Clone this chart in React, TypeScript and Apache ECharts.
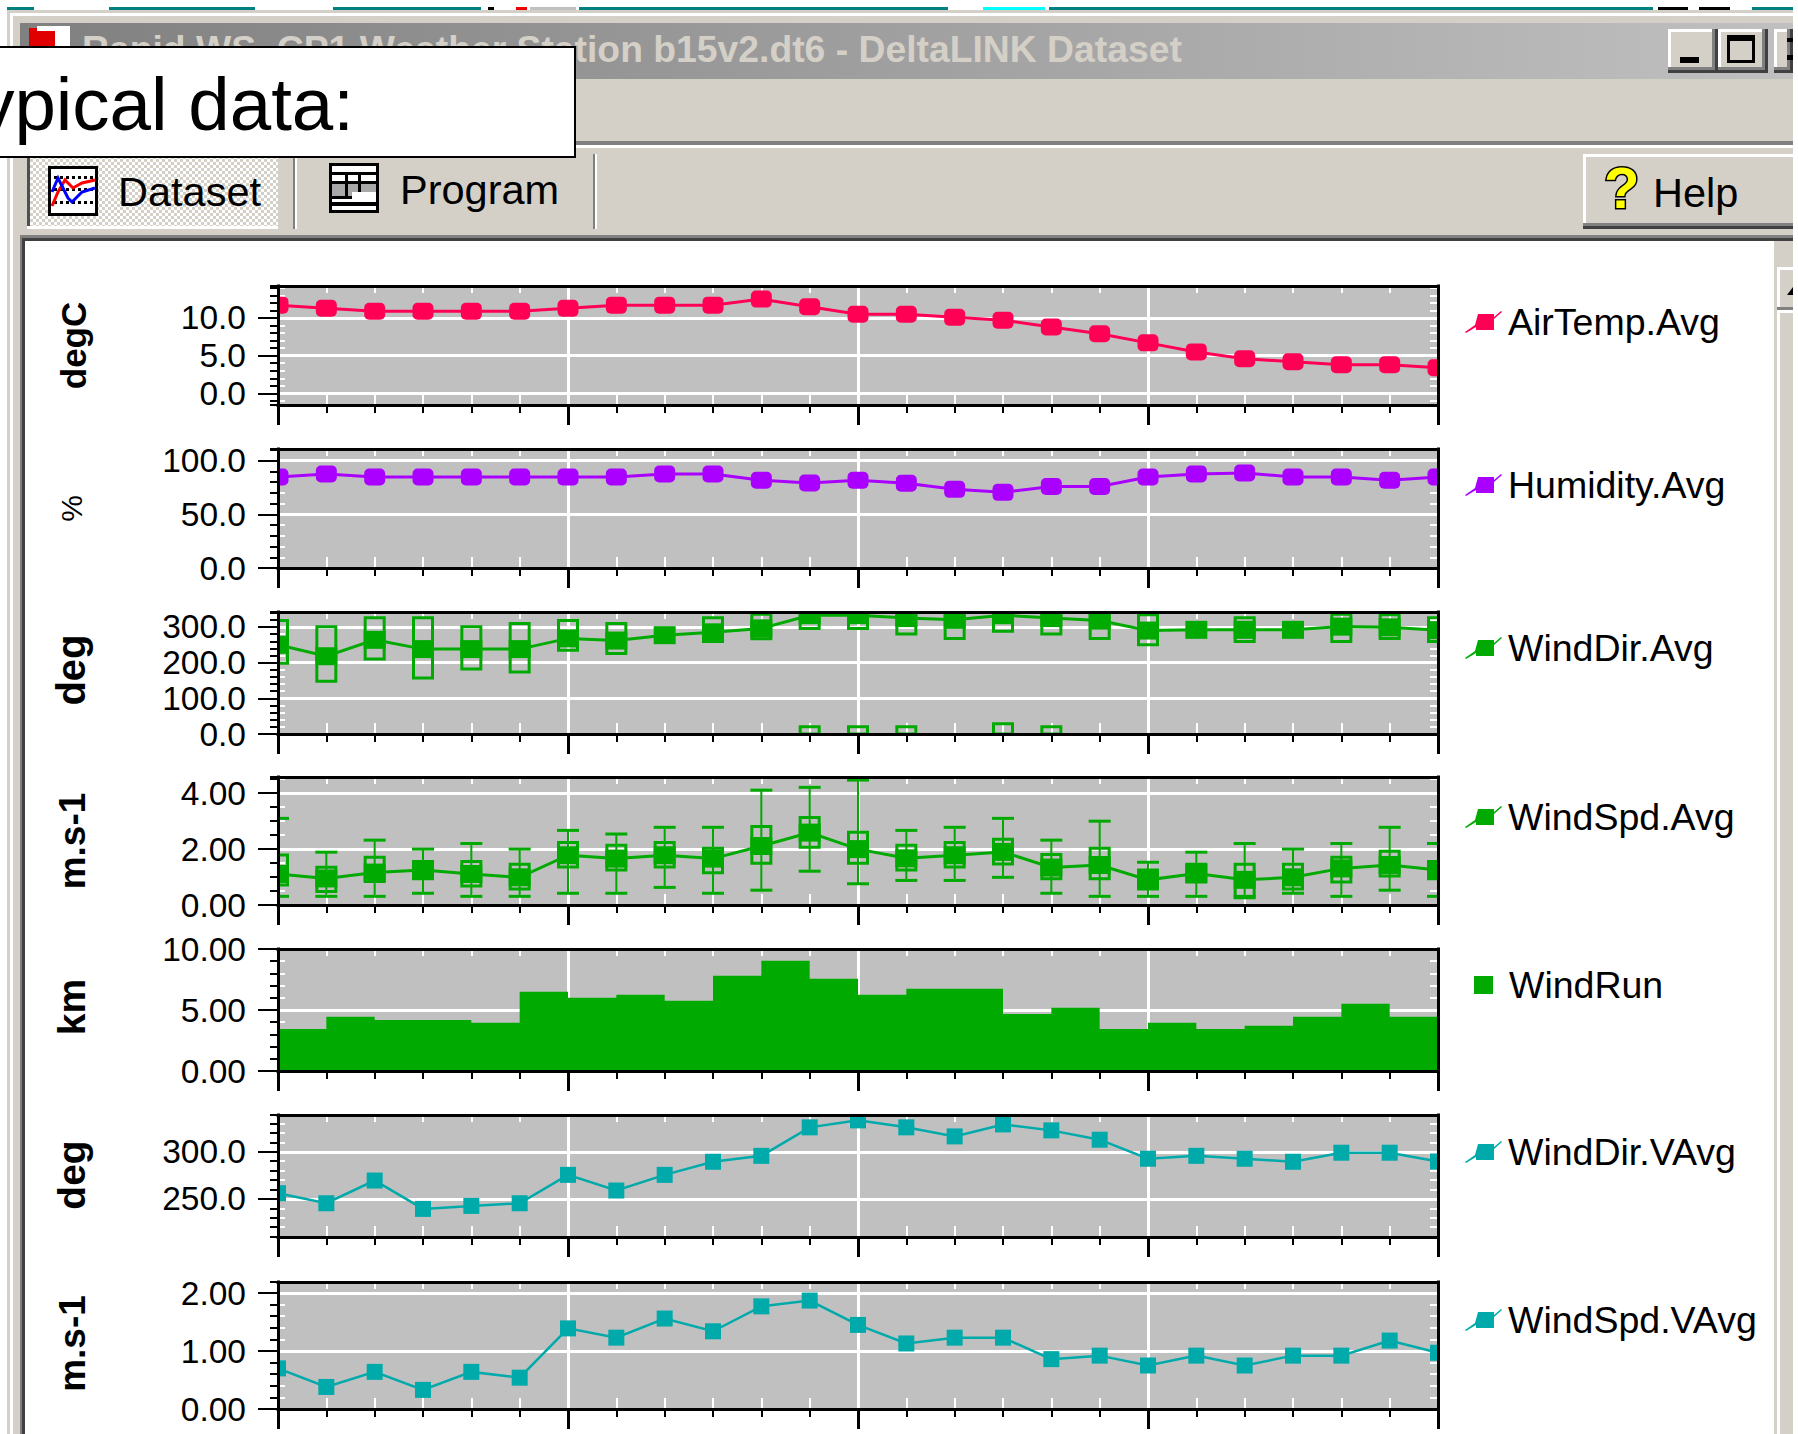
import React, { useEffect, useRef } from "react";
import * as echarts from "echarts";

const FONT = '"Liberation Sans", Arial, sans-serif';

// ---- Data ----
const airTempAvg = [11.7, 11.3, 10.9, 10.9, 10.9, 10.9, 11.3, 11.7, 11.7, 11.7, 12.5, 11.5, 10.5, 10.5, 10.1, 9.7, 8.8, 7.9, 6.7, 5.5, 4.6, 4.2, 3.8, 3.8, 3.4];
const humidityAvg = [84.8, 87.6, 84.8, 84.8, 84.8, 84.8, 84.8, 84.8, 87.6, 87.6, 81.7, 79.2, 81.7, 78.9, 73.3, 70.5, 76, 76, 84.8, 87.6, 88.5, 84.8, 84.8, 81.7, 84.8];
const windDirAvg = [250, 218, 264, 238, 238, 238, 268, 262, 277, 285, 296, 333, 333, 325, 320, 333, 325, 318, 290, 292, 292, 292, 301, 299, 291];
const windDirBoxLow = [198, 148, 210, 157, 182, 174, 235, 226, 277, 259, 267, 296, 296, 280, 268, 288, 280, 268, 250, 292, 259, 292, 259, 268, 259];
const windDirBoxHigh = [318, 301, 326, 326, 301, 310, 318, 310, 277, 326, 336, 360, 360, 360, 360, 360, 360, 360, 334, 292, 326, 292, 336, 334, 326];
const windDirWrapIndex = [11, 12, 13, 15, 16];
const windDirWrapHigh = [20, 20, 20, 29, 20];
const windSpdAvg = [1.11, 0.95, 1.16, 1.25, 1.11, 0.99, 1.78, 1.66, 1.78, 1.66, 2.11, 2.59, 2.0, 1.67, 1.78, 1.9, 1.34, 1.43, 0.9, 1.13, 0.9, 0.99, 1.31, 1.43, 1.25];
const windSpdMax = [3.1, 1.89, 2.32, 2.0, 2.2, 2.0, 2.67, 2.54, 2.78, 2.78, 4.11, 4.21, 4.47, 2.67, 2.78, 3.1, 2.32, 3.0, 1.53, 1.89, 2.2, 2.0, 2.2, 2.78, 2.2];
const windSpdMin = [0.31, 0.31, 0.31, 0.42, 0.31, 0.31, 0.42, 0.42, 0.63, 0.42, 0.53, 1.21, 0.76, 0.88, 0.88, 0.99, 0.42, 0.31, 0.31, 0.31, 0.31, 0.42, 0.31, 0.53, 0.31];
const windSpdBoxHigh = [1.79, 1.35, 1.71, 1.56, 1.56, 1.46, 2.24, 2.14, 2.24, 2.03, 2.81, 3.13, 2.6, 2.14, 2.24, 2.35, 1.81, 2.03, 1.25, 1.46, 1.46, 1.46, 1.71, 1.92, 1.56];
const windSpdBoxLow = [0.72, 0.48, 0.84, 0.94, 0.68, 0.57, 1.36, 1.25, 1.36, 1.15, 1.49, 2.07, 1.49, 1.25, 1.36, 1.47, 0.94, 0.94, 0.57, 0.82, 0.26, 0.57, 0.82, 1.04, 0.94];
const windRun = [3.45, 4.44, 4.19, 4.19, 3.95, 6.49, 6.0, 6.25, 5.75, 7.81, 9.04, 7.56, 6.25, 6.74, 6.74, 4.68, 5.18, 3.45, 3.95, 3.45, 3.7, 4.44, 5.51, 4.44, 4.44];
const windDirVAvg = [256, 245.4, 269.5, 239.4, 242.6, 245.4, 275.5, 258.9, 275.5, 289.4, 295.7, 325.9, 333.3, 325.9, 316.3, 329, 322.7, 312.8, 292.6, 295.7, 292.6, 289.4, 299, 299, 289.7];
const windSpdVAvg = [0.7, 0.38, 0.64, 0.33, 0.64, 0.54, 1.39, 1.23, 1.56, 1.34, 1.77, 1.87, 1.45, 1.13, 1.23, 1.23, 0.86, 0.92, 0.75, 0.92, 0.75, 0.92, 0.92, 1.18, 0.97];

const xMajorTicks = [0, 6, 12, 18, 24];
const xMinorTicks = [1, 2, 3, 4, 5, 7, 8, 9, 10, 11, 13, 14, 15, 16, 17, 19, 20, 21, 22, 23];

const seriesNames = ["AirTemp.Avg", "Humidity.Avg", "WindDir.Avg", "WindSpd.Avg", "WindRun", "WindDir.VAvg", "WindSpd.VAvg"];
const units = ["degC", "%", "deg", "m.s-1", "km", "deg", "m.s-1"];
const yMajorTicks = [[0, 5, 10], [0, 50, 100], [0, 100, 200, 300], [0, 2, 4], [0, 5, 10], [250, 300], [0, 1, 2]];
const yMinorTicks = [
  [-1, 1, 2, 3, 4, 6, 7, 8, 9, 11, 12, 13, 14],
  [10, 20, 30, 40, 60, 70, 80, 90, 110],
  [20, 40, 60, 80, 120, 140, 160, 180, 220, 240, 260, 280, 320, 340],
  [0.5, 1, 1.5, 2.5, 3, 3.5, 4.5],
  [1, 2, 3, 4, 6, 7, 8, 9],
  [210, 220, 230, 240, 260, 270, 280, 290, 310, 320, 330],
  [0.2, 0.4, 0.6, 0.8, 1.2, 1.4, 1.6, 1.8],
];
const yMins = [-1.54, 0, 0, 0, 0, 209.6, 0];
const yMaxs = [14.24, 110.9, 342, 4.58, 10, 339, 2.19];
const yDecimals = [1, 1, 1, 2, 2, 1, 2];

// ---- Layout and style ----
const PINK = "#FF0055";
const PURPLE = "#AA00FF";
const GREEN = "#00AA00";
const TEAL = "#00AAAA";
const PANEL = "#D4D0C8";
const colors = [PINK, PURPLE, GREEN, GREEN, GREEN, TEAL, TEAL];
const gridTop = [286, 449, 612, 777, 949, 1115, 1282];
const gridHeight = [119, 119, 122, 128, 122, 122, 127];
const legendCenter = [322, 485, 648, 817, 985, 1152, 1320];
const unitSize = [35, 30, 40, 37, 39, 39, 37];
const unitShift = [0, 0, 6, 0, 6, 2, 4];
const unitGap = [187, 192, 187, 187, 187, 187, 187];
const GRID_LEFT = 278;
const GRID_WIDTH = 1160;

const LEGEND_ICON = "path://M0 21L10 14L13 3L29 3L29 19L11 19L11 16L1 22ZM29 6L36 0L37 1L29 8Z";

const hideLabel = { show: false };
const hideSplit = { show: false };
const whiteGridLine = { show: true, lineStyle: { color: "#fff", width: 3 } };

function xAxesFor(g: number) {
  const base = { type: "value", gridIndex: g, min: 0, max: 24, axisLabel: hideLabel, splitLine: hideSplit, axisLine: { show: false, onZero: false } };
  const line = { show: true, onZero: false, lineStyle: { color: "#000", width: 3, cap: "square" } };
  return [
    { ...base, position: "bottom", z: 5, axisLine: line, axisTick: { show: true, customValues: xMajorTicks, length: 20, lineStyle: { color: "#000", width: 3 } } },
    { ...base, position: "bottom", z: 5, axisTick: { show: true, customValues: xMinorTicks, length: 8, lineStyle: { color: "#000", width: 2 } } },
    { ...base, position: "bottom", z: 0, axisTick: { show: true, inside: true, customValues: xMinorTicks, length: 11, lineStyle: { color: "#fff", width: 2 } } },
    { ...base, position: "top", z: 0, axisTick: { show: true, inside: true, customValues: xMinorTicks, length: 7, lineStyle: { color: "#fff", width: 2 } } },
    { ...base, position: "top", z: 5, axisLine: line, axisTick: { show: false } },
    { ...base, position: "bottom", z: 0, axisTick: { show: false, customValues: xMajorTicks }, splitLine: whiteGridLine },
  ];
}

function yAxesFor(g: number) {
  const major = yMajorTicks[g];
  const inner = yMinorTicks[g];
  const edges = [yMins[g], yMaxs[g]].filter((v) => !major.includes(v));
  const base = { type: "value", gridIndex: g, min: yMins[g], max: yMaxs[g], axisLabel: hideLabel, splitLine: hideSplit, axisLine: { show: false, onZero: false } };
  const d = yDecimals[g];
  return [
    {
      ...base,
      position: "left",
      z: 5,
      name: units[g],
      nameLocation: "middle",
      nameRotate: 90,
      nameGap: unitGap[g],
      nameMoveOverlap: false,
      nameTextStyle: { fontFamily: FONT, fontSize: unitSize[g], fontWeight: units[g] === "%" ? "normal" : "bold", color: "#000", padding: [0, 0, 0, unitShift[g]] },
      axisLine: { show: true, onZero: false, lineStyle: { color: "#000", width: 3, cap: "square" } },
      axisTick: { show: true, customValues: major, length: 20, lineStyle: { color: "#000", width: 2 } },
      axisLabel: { show: true, customValues: major, margin: 32, color: "#000", fontFamily: FONT, fontSize: 33.5, formatter: (v: number) => v.toFixed(d) },
    },
    { ...base, position: "left", z: 5, axisTick: { show: true, customValues: [...inner, ...edges], length: 8, lineStyle: { color: "#000", width: 2 } } },
    { ...base, position: "left", z: 0, axisTick: { show: true, inside: true, customValues: inner, length: 7, lineStyle: { color: "#fff", width: 2 } } },
    { ...base, position: "right", z: 0, axisTick: { show: true, inside: true, customValues: inner, length: 8, lineStyle: { color: "#fff", width: 2 } } },
    { ...base, position: "right", z: 5, axisLine: { show: true, onZero: false, lineStyle: { color: "#000", width: 3, cap: "square" } }, axisTick: { show: false } },
    { ...base, position: "left", z: 0, axisTick: { show: false, customValues: major }, splitLine: whiteGridLine },
  ];
}

const AXES_PER_GRID = 6;
const ax = (g: number) => ({ xAxisIndex: g * AXES_PER_GRID, yAxisIndex: g * AXES_PER_GRID });

function markerSeries(g: number, values: number[], w: number, h: number, r: number) {
  return {
    type: "custom",
    ...ax(g),
    clip: true,
    z: 3,
    silent: true,
    data: values.map((v, i) => [i, v]),
    renderItem: (_p: any, api: any) => {
      const c = api.coord([api.value(0), api.value(1)]);
      return { type: "rect", shape: { x: c[0] - w / 2, y: c[1] - h / 2, width: w, height: h, r }, style: { fill: colors[g] } };
    },
  };
}

function lineSeries(g: number, values: number[], width: number) {
  return {
    type: "line",
    name: seriesNames[g],
    ...ax(g),
    clip: true,
    z: 2,
    silent: true,
    showSymbol: false,
    symbol: "none",
    itemStyle: { color: colors[g] },
    lineStyle: { color: colors[g], width, join: "miter" },
    data: values.map((v, i) => [i, v]),
  };
}

function boxSeries(g: number, indexes: number[], low: number[], high: number[]) {
  return {
    type: "custom",
    ...ax(g),
    clip: true,
    z: 3,
    silent: true,
    data: indexes.map((x, k) => [x, low[k], high[k]]),
    renderItem: (_p: any, api: any) => {
      const a = api.coord([api.value(0), api.value(1)]);
      const b = api.coord([api.value(0), api.value(2)]);
      return { type: "rect", shape: { x: a[0] - 9.5, y: b[1], width: 19, height: a[1] - b[1] }, style: { fill: "none", stroke: colors[g], lineWidth: 3 } };
    },
  };
}

function whiskerSeries(g: number, low: number[], high: number[]) {
  return {
    type: "custom",
    ...ax(g),
    clip: true,
    z: 3,
    silent: true,
    data: low.map((v, i) => [i, v, high[i]]),
    renderItem: (_p: any, api: any) => {
      const a = api.coord([api.value(0), api.value(1)]);
      const b = api.coord([api.value(0), api.value(2)]);
      const st = { stroke: colors[g], lineWidth: 2 };
      const cap = { stroke: colors[g], lineWidth: 3 };
      return {
        type: "group",
        children: [
          { type: "line", shape: { x1: a[0], y1: a[1], x2: b[0], y2: b[1] }, style: st },
          { type: "line", shape: { x1: a[0] - 11, y1: a[1], x2: a[0] + 11, y2: a[1] }, style: cap },
          { type: "line", shape: { x1: b[0] - 11, y1: b[1], x2: b[0] + 11, y2: b[1] }, style: cap },
        ],
      };
    },
  };
}

const allIndex = airTempAvg.map((_, i) => i);

function legendFor(g: number) {
  const isRun = seriesNames[g] === "WindRun";
  return {
    show: true,
    data: [seriesNames[g]],
    selectedMode: false,
    orient: "horizontal",
    left: isRun ? 1474 : 1465,
    top: legendCenter[g] - 20,
    padding: 0,
    icon: isRun ? "rect" : LEGEND_ICON,
    itemWidth: isRun ? 19 : 39,
    itemHeight: isRun ? 18 : 22,
    textStyle: { fontFamily: FONT, fontSize: 37.5, color: "#000", lineHeight: 40, padding: isRun ? [0, 0, 0, 11] : 0 },
  };
}

// ---- Window chrome drawn around the chart ----
const BASE = 0.3465; // distance from the alphabetic baseline to the central baseline, in em
const R = (x: number, y: number, w: number, h: number, fill: any) => ({ type: "rect", z: -10, silent: true, shape: { x, y, width: w, height: h }, style: { fill } });
const T = (text: string, x: number, base: number, size: number, fill: string, weight = "normal", align = "left") => ({
  type: "text",
  z: -10,
  silent: true,
  x,
  y: base - BASE * size,
  style: { text, fontFamily: FONT, fontSize: size, fontWeight: weight, fill, align, verticalAlign: "middle" },
});
const PL = (points: number[][], stroke: string, lineWidth: number) => ({ type: "polyline", z: -10, silent: true, shape: { points }, style: { stroke, lineWidth, fill: "none" } });

function winButton(x: number, y: number, w: number, h: number) {
  return [
    R(x, y, w, h, "#404040"),
    R(x, y, w - 3, h - 3, "#808080"),
    R(x, y, w - 6, h - 6, "#fff"),
    R(x + 3, y + 3, w - 9, h - 9, PANEL),
  ];
}

function dottedRow(x0: number, x1: number, y: number) {
  const out: any[] = [];
  for (let x = x0; x < x1; x += 6) out.push(R(x, y, 3, 3, "#000"));
  return out;
}

function ditherFill() {
  const c = document.createElement("canvas");
  c.width = 6;
  c.height = 6;
  const ctx = c.getContext("2d") as CanvasRenderingContext2D;
  ctx.fillStyle = PANEL;
  ctx.fillRect(0, 0, 6, 6);
  ctx.fillStyle = "#fff";
  ctx.fillRect(0, 0, 3, 3);
  ctx.fillRect(3, 3, 3, 3);
  return { image: c, repeat: "repeat" };
}

function chrome() {
  return [
    // screen strip above the window
    R(7, 7, 27, 3, "#008080"), R(109, 7, 146, 3, "#008080"), R(333, 7, 148, 3, "#008080"),
    R(488, 7, 6, 3, "#000"), R(516, 7, 11, 3, "#e00"), R(530, 7, 46, 3, "#C0C0C0"),
    R(579, 7, 369, 3, "#008080"), R(983, 7, 62, 3, "#00FFFF"), R(1049, 7, 604, 3, "#008080"),
    R(1658, 7, 30, 3, "#000"), R(1699, 7, 31, 3, "#000"), R(1752, 7, 41, 3, "#008080"),
    // window body
    R(7, 10, 1786, 1424, PANEL),
    R(10, 13, 1783, 3, "#fff"),
    R(10, 13, 3, 1421, "#fff"),
    R(13, 16, 1780, 1418, PANEL),
    R(20, 23, 1773, 56, new (echarts.graphic as any).LinearGradient(0, 0, 1, 0, [{ offset: 0, color: "#808080" }, { offset: 1, color: "#C0C0C0" }])),
    R(29, 28, 26, 18, "#E00000"), R(37, 26, 33, 5, "#fff"), R(55, 31, 15, 15, "#fff"),
    T("Rapid WS_CP1 Weather Station b15v2.dt6 - DeltaLINK Dataset", 82, 62, 37.3, PANEL, "bold"),
    ...winButton(1668, 29, 50, 44),
    R(1680, 57, 19, 6, "#000"),
    ...winButton(1718, 29, 50, 44),
    R(1727, 35, 28, 28, "#000"), R(1730, 41, 22, 19, PANEL),
    ...winButton(1774, 29, 19, 44),
    R(1787, 38, 6, 4, "#000"), R(1787, 55, 6, 5, "#000"),
    // separators
    R(20, 141, 1773, 4, "#808080"),
    R(20, 145, 1773, 3, "#fff"),
    // toolbar
    R(27, 157, 251, 72, "#fff"),
    R(27, 154, 3, 72, "#505050"),
    R(30, 157, 248, 69, ditherFill()),
    R(48, 166, 50, 50, "#000"), R(51, 169, 44, 44, "#fff"),
    ...dottedRow(54, 96, 176), ...dottedRow(54, 96, 188), ...dottedRow(54, 96, 201),
    PL([[52, 206], [58, 192], [65, 180], [73, 188], [82, 183], [95, 180]], "#FF0000", 3),
    PL([[52, 192], [58, 178], [68, 198], [72, 202], [82, 192], [95, 188]], "#0000FF", 3),
    T("Dataset", 118, 206, 41.5, "#000"),
    R(293, 154, 2, 75, "#808080"), R(295, 154, 2, 75, "#fff"),
    R(329, 163, 50, 50, "#000"),
    R(332, 166, 44, 6, "#fff"), R(332, 175, 44, 6, "#fff"), R(332, 184, 44, 12, "#A8A8A8"), R(345, 172, 3, 25, "#000"), R(358, 172, 3, 25, "#000"),
    R(352, 192, 24, 10, "#fff"), R(332, 199, 44, 3, "#fff"), R(332, 206, 44, 4, "#fff"),
    T("Program", 400, 204, 41.5, "#000"),
    R(593, 154, 2, 75, "#808080"), R(595, 154, 2, 75, "#fff"),
    // help button
    R(1583, 154, 210, 75, "#404040"),
    R(1583, 154, 210, 72, "#808080"),
    R(1583, 154, 210, 69, "#fff"),
    R(1586, 157, 207, 66, PANEL),
    { type: "text", z: -10, silent: true, x: 1604, y: 208 - BASE * 58, style: { text: "?", fontFamily: FONT, fontSize: 58, fontWeight: "bold", fill: "#FFFF00", stroke: "#000", lineWidth: 3, align: "left", verticalAlign: "middle" } },
    T("Help", 1653, 207, 41.5, "#000"),
    R(1583, 229, 210, 6, PANEL),
    // client frame
    R(20, 235, 1773, 3, "#808080"),
    R(20, 238, 1773, 3, "#404040"),
    R(20, 235, 2, 1199, "#808080"),
    R(22, 238, 3, 1196, "#404040"),
    R(25, 241, 1749, 1193, "#fff"),
    // scrollbar
    R(1774, 263, 19, 1171, PANEL),
    R(1777, 267, 16, 3, "#fff"), R(1777, 267, 3, 40, "#fff"),
    R(1777, 307, 16, 3, "#808080"),
    R(1777, 310, 16, 3, "#fff"), R(1777, 310, 3, 1124, "#fff"),
    { type: "polygon", z: -10, silent: true, shape: { points: [[1787, 295], [1793, 287], [1793, 295]] }, style: { fill: "#000" } },
    // "Typical data:" caption
    R(-4, 46, 580, 112, "#000"),
    R(-4, 48, 578, 108, "#fff"),
    T("Typical data:", 354, 130, 74.5, "#000", "normal", "right"),
  ];
}

function buildOption() {
  const grid = gridTop.map((top, g) => ({ left: GRID_LEFT, top, width: GRID_WIDTH, height: gridHeight[g], show: true, backgroundColor: "#C0C0C0", borderWidth: 0 }));
  const xAxis = gridTop.flatMap((_, g) => xAxesFor(g));
  const yAxis = gridTop.flatMap((_, g) => yAxesFor(g));
  const series: any[] = [
    lineSeries(0, airTempAvg, 3),
    markerSeries(0, airTempAvg, 21, 17, 5),
    lineSeries(1, humidityAvg, 3),
    markerSeries(1, humidityAvg, 21, 17, 5),
    lineSeries(2, windDirAvg, 3),
    boxSeries(2, allIndex, windDirBoxLow, windDirBoxHigh),
    boxSeries(2, windDirWrapIndex, windDirWrapIndex.map(() => 0), windDirWrapHigh),
    markerSeries(2, windDirAvg, 22, 18, 0),
    lineSeries(3, windSpdAvg, 3),
    whiskerSeries(3, windSpdMin, windSpdMax),
    boxSeries(3, allIndex, windSpdBoxLow, windSpdBoxHigh),
    markerSeries(3, windSpdAvg, 22, 18, 0),
    {
      type: "line",
      name: seriesNames[4],
      ...ax(4),
      z: 2,
      silent: true,
      step: "end",
      showSymbol: false,
      symbol: "none",
      itemStyle: { color: GREEN },
      lineStyle: { width: 0, color: GREEN },
      areaStyle: { color: GREEN, opacity: 1 },
      data: windRun.map((v, i) => [i, v]),
    },
    lineSeries(5, windDirVAvg, 2.5),
    markerSeries(5, windDirVAvg, 16, 16, 0),
    lineSeries(6, windSpdVAvg, 2.5),
    markerSeries(6, windSpdVAvg, 16, 16, 0),
  ];
  return {
    animation: false,
    backgroundColor: "#fff",
    graphic: { z: -10, elements: chrome() },
    legend: gridTop.map((_, g) => legendFor(g)),
    tooltip: { show: false },
    grid,
    xAxis,
    yAxis,
    series,
  };
}

export default function App() {
  const ref = useRef<HTMLDivElement | null>(null);
  useEffect(() => {
    const chart = echarts.init(ref.current as HTMLDivElement, undefined, { renderer: "svg" });
    chart.setOption(buildOption() as any);
    return () => chart.dispose();
  }, []);
  return <div ref={ref} style={{ position: "absolute", left: 0, top: 0, width: 1798, height: 1434 }} />;
}
